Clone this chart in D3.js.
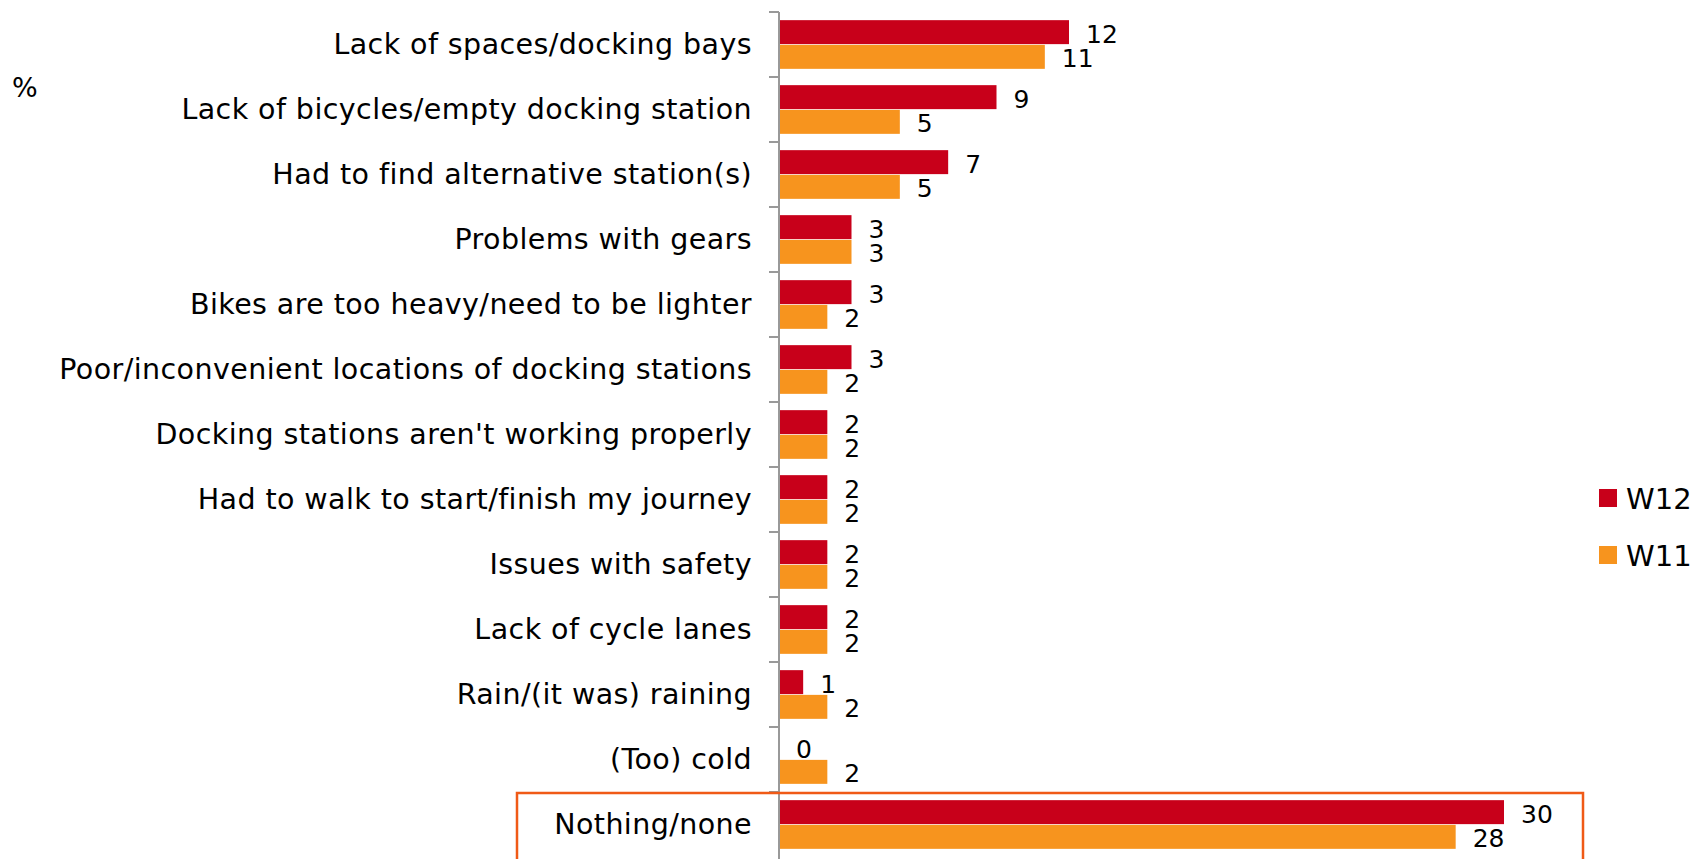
<!DOCTYPE html>
<html>
<head>
<meta charset="utf-8">
<script src="https://cdn.jsdelivr.net/npm/d3@7"></script>
<style>
  body { margin: 0; background: #fff; }
  svg text { font-family: "DejaVu Sans", Verdana, sans-serif; fill: #000; }
</style>
</head>
<body>
<script>
// data
var categories = [
  "Lack of spaces/docking bays",
  "Lack of bicycles/empty docking station",
  "Had to find alternative station(s)",
  "Problems with gears",
  "Bikes are too heavy/need to be lighter",
  "Poor/inconvenient locations of docking stations",
  "Docking stations aren't working properly",
  "Had to walk to start/finish my journey",
  "Issues with safety",
  "Lack of cycle lanes",
  "Rain/(it was) raining",
  "(Too) cold",
  "Nothing/none"
];
var seriesNames = ["W12", "W11"];
var w12 = [12, 9, 7, 3, 3, 3, 2, 2, 2, 2, 1, 0, 30];
var w11 = [11, 5, 5, 3, 2, 2, 2, 2, 2, 2, 2, 2, 28];
var colors = ["#c8001a", "#f7941e"];

var width = 1699, height = 859;
var axisX = 779;

var svg = d3.select("body").append("svg")
  .attr("width", width)
  .attr("height", height);

// scales
var x = d3.scaleLinear()
  .domain([0, 30])
  .range([axisX, axisX + 725]);

var y = d3.scaleBand()
  .domain(categories)
  .range([12, 857])
  .padding(0);

var ySub = d3.scaleBand()
  .domain(seriesNames)
  .range([0, y.bandwidth()])
  .paddingOuter(0.33)
  .paddingInner(0.03);

var rows = categories.map(function(c, i) {
  return { cat: c, values: [w12[i], w11[i]] };
});

// bars
var groups = svg.selectAll(".row")
  .data(rows)
  .enter().append("g")
  .attr("class", "row")
  .attr("transform", function(d) { return "translate(0," + y(d.cat) + ")"; });

groups.selectAll("rect")
  .data(function(d) { return d.values.map(function(v, j) { return { s: seriesNames[j], v: v, j: j }; }); })
  .enter().append("rect")
  .attr("x", x(0))
  .attr("y", function(d) { return ySub(d.s); })
  .attr("width", function(d) { return x(d.v) - x(0); })
  .attr("height", ySub.bandwidth())
  .attr("fill", function(d) { return colors[d.j]; });

// value labels
groups.selectAll(".val")
  .data(function(d) { return d.values.map(function(v, j) { return { s: seriesNames[j], v: v }; }); })
  .enter().append("text")
  .attr("class", "val")
  .attr("x", function(d) { return x(d.v) + 17; })
  .attr("y", function(d) { return ySub(d.s) + ySub.bandwidth() / 2 + 2; })
  .attr("dominant-baseline", "central")
  .style("font-size", "25px")
  .text(function(d) { return d.v; });

// category labels
groups.append("text")
  .attr("x", axisX - 27)
  .attr("y", y.bandwidth() / 2)
  .attr("text-anchor", "end")
  .attr("dominant-baseline", "central")
  .style("font-size", "28.5px")
  .style("letter-spacing", "0.42px")
  .text(function(d) { return d.cat; });

// axis line with ticks at band edges
svg.append("line")
  .attr("x1", axisX).attr("x2", axisX)
  .attr("y1", y.range()[0]).attr("y2", height)
  .attr("stroke", "#999").attr("stroke-width", 2);

svg.selectAll(".tick")
  .data(categories)
  .enter().append("line")
  .attr("class", "tick")
  .attr("x1", axisX - 10).attr("x2", axisX)
  .attr("y1", function(d) { return y(d); })
  .attr("y2", function(d) { return y(d); })
  .attr("stroke", "#999").attr("stroke-width", 2);

// highlight box around the last row
var last = categories[categories.length - 1];
svg.append("rect")
  .attr("x", 517)
  .attr("y", y(last) + 1)
  .attr("width", 1066)
  .attr("height", 100)
  .attr("fill", "none")
  .attr("stroke", "#f05a16")
  .attr("stroke-width", 2.5);

// % label
svg.append("text")
  .attr("x", 12)
  .attr("y", 87)
  .attr("dominant-baseline", "central")
  .style("font-size", "27px")
  .text("%");

// legend
var legend = svg.selectAll(".legend")
  .data(seriesNames)
  .enter().append("g")
  .attr("class", "legend")
  .attr("transform", function(d, i) { return "translate(1599," + (489 + i * 57) + ")"; });

legend.append("rect")
  .attr("width", 18)
  .attr("height", 18)
  .attr("fill", function(d, i) { return colors[i]; });

legend.append("text")
  .attr("x", 27)
  .attr("y", 10)
  .attr("dominant-baseline", "central")
  .style("font-size", "29px")
  .text(function(d) { return d; });
</script>
</body>
</html>
